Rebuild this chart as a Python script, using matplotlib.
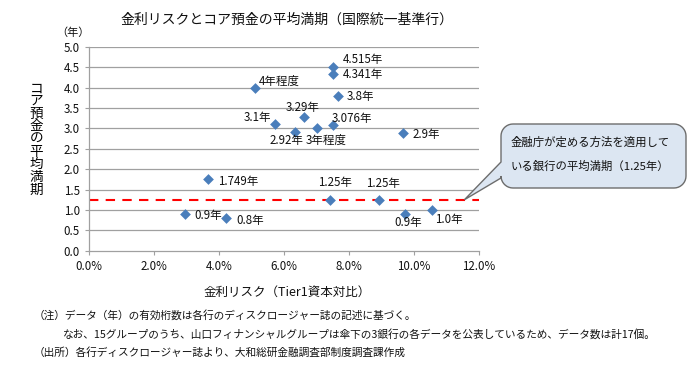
import numpy as np
import matplotlib
matplotlib.use("Agg")
import matplotlib.pyplot as plt
from matplotlib.patches import Polygon

plt.rcParams['font.family'] = ['Noto Sans CJK JP', 'DejaVu Sans']

# Data ------------------------------------------------------------------------
risk = [7.52, 7.52, 5.11, 7.65, 6.61, 5.72, 6.35, 7.03, 7.52, 9.66,
        3.68, 2.95, 4.23, 7.43, 8.93, 9.71, 10.54]           # [%]
maturity = [4.515, 4.341, 4.0, 3.8, 3.29, 3.1, 2.92, 3.0, 3.076, 2.9,
            1.749, 0.9, 0.8, 1.25, 1.25, 0.9, 1.0]           # [年]
labels = ['4.515年', '4.341年', '4年程度', '3.8年', '3.29年', '3.1年',
          '2.92年', '3年程度', '3.076年', '2.9年', '1.749年', '0.9年',
          '0.8年', '1.25年', '1.25年', '0.9年', '1.0年']
fsa_level = 1.25
xticks = [0, 2, 4, 6, 8, 10, 12]
yticks = [0.0, 0.5, 1.0, 1.5, 2.0, 2.5, 3.0, 3.5, 4.0, 4.5, 5.0]

# label placement (pixel offsets, alignment)
offsets = [(10, 7, 'left'), (10, -1, 'left'), (4, 6, 'left'), (9, -1, 'left'),
           (-1, 9.5, 'center'), (-4, 7, 'right'), (-9, -8.5, 'center'),
           (8.5, -11.7, 'center'), (-2, 7, 'left'), (10, -2, 'left'),
           (10, -1.6, 'left'), (10, -1.5, 'left'), (10, -2, 'left'),
           (4.7, 17, 'center'), (4, 16, 'center'), (4, -8.5, 'center'),
           (4, -10, 'left')]

W, H = 700, 376
fig = plt.figure(figsize=(W / 100, H / 100), dpi=100)

def fx(px):
    return px / W

def fy(py):
    return 1 - py / H

ax = fig.add_axes([fx(88.7), fy(250.7), fx(479) - fx(88.7), fy(47) - fy(250.7)])

# Plot ------------------------------------------------------------------------
grid_c = '#a0a0a0'
txt_c = '#111111'
for v in yticks[1:]:
    ax.axhline(v, color=grid_c, lw=0.9, zorder=1)
ax.plot([0, 12], [fsa_level, fsa_level], color='#ff0000', lw=1.5,
        dashes=(4.5, 3.5), zorder=2)
ax.scatter(risk, maturity, marker='D', s=30, color='#4a7ebb', zorder=3,
           linewidths=0)

for x, y, lab, (dx, dy, ha) in zip(risk, maturity, labels, offsets):
    ax.annotate(lab, (x, y), xytext=(dx, dy), textcoords='offset pixels',
                ha=ha, va='center', fontsize=8.3, color=txt_c, zorder=4)

ax.set_xlim(0, 12)
ax.set_ylim(0, 5)
ax.set_xticks(xticks)
ax.set_xticklabels(['%.1f%%' % t for t in xticks])
ax.set_yticks(yticks)
ax.set_yticklabels(['%.1f' % t for t in yticks])
ax.tick_params(labelsize=8.3, length=3, color=grid_c, labelcolor=txt_c)
for s in ['top', 'right']:
    ax.spines[s].set_visible(False)
for s in ['left', 'bottom']:
    ax.spines[s].set_color(grid_c)
    ax.spines[s].set_linewidth(0.9)

# Text ------------------------------------------------------------------------
fig.text(fx(287), fy(20), '金利リスクとコア預金の平均満期（国際統一基準行）',
         ha='center', va='center', fontsize=10, color=txt_c)
fig.text(fx(73), fy(33), '（年）', ha='center', va='center', fontsize=8,
         color=txt_c)
fig.text(fx(36.5), fy(139), '\n'.join('コア預金の平均満期'), ha='center',
         va='center', fontsize=9.8, linespacing=0.88, fontweight='normal',
         color='#000000')
fig.text(fx(287), fy(292), '金利リスク（Tier1資本対比）', ha='center',
         va='center', fontsize=9, color=txt_c)
fig.text(fx(34), fy(315), '（注）データ（年）の有効桁数は各行のディスクロージャー誌の記述に基づく。',
         ha='left', va='center', fontsize=7.7, color=txt_c)
fig.text(fx(63), fy(334), 'なお、15グループのうち、山口フィナンシャルグループは傘下の3銀行の各データを公表しているため、データ数は計17個。',
         ha='left', va='center', fontsize=7.7, color=txt_c)
fig.text(fx(34), fy(352), '（出所）各行ディスクロージャー誌より、大和総研金融調査部制度調査課作成',
         ha='left', va='center', fontsize=7.7, color=txt_c)

# Callout ---------------------------------------------------------------------
tip = ax.transData.transform((11.55, fsa_level))
tip_px = (tip[0], H - tip[1])
x0, x1, y0, y1, r = 501, 686, 124, 188, 12
pts = []
def arc(cx, cy, a0, a1):
    for a in np.linspace(a0, a1, 10):
        pts.append((cx + r * np.cos(a), cy + r * np.sin(a)))
# pixel coords with y downward
arc(x0 + r, y0 + r, np.pi, 1.5 * np.pi)          # top-left
arc(x1 - r, y0 + r, 1.5 * np.pi, 2 * np.pi)      # top-right
arc(x1 - r, y1 - r, 0, 0.5 * np.pi)              # bottom-right
arc(x0 + r, y1 - r, 0.5 * np.pi, np.pi)          # bottom-left
# wedge on the left edge
pts.append((x0, 178))
pts.append(tip_px)
pts.append((x0, 162))
poly = Polygon([(fx(p[0]), fy(p[1])) for p in pts], closed=True,
               transform=fig.transFigure, facecolor='#dce6f2',
               edgecolor='#6d6d6d', lw=1.0, zorder=5)
fig.patches.append(poly)
fig.text(fx(511), fy(142), '金融庁が定める方法を適用して', ha='left',
         va='center', fontsize=8.2, zorder=6, color=txt_c)
fig.text(fx(511), fy(166), 'いる銀行の平均満期（1.25年）', ha='left',
         va='center', fontsize=8.2, zorder=6, color=txt_c)

fig.savefig('out.png', dpi=100)
